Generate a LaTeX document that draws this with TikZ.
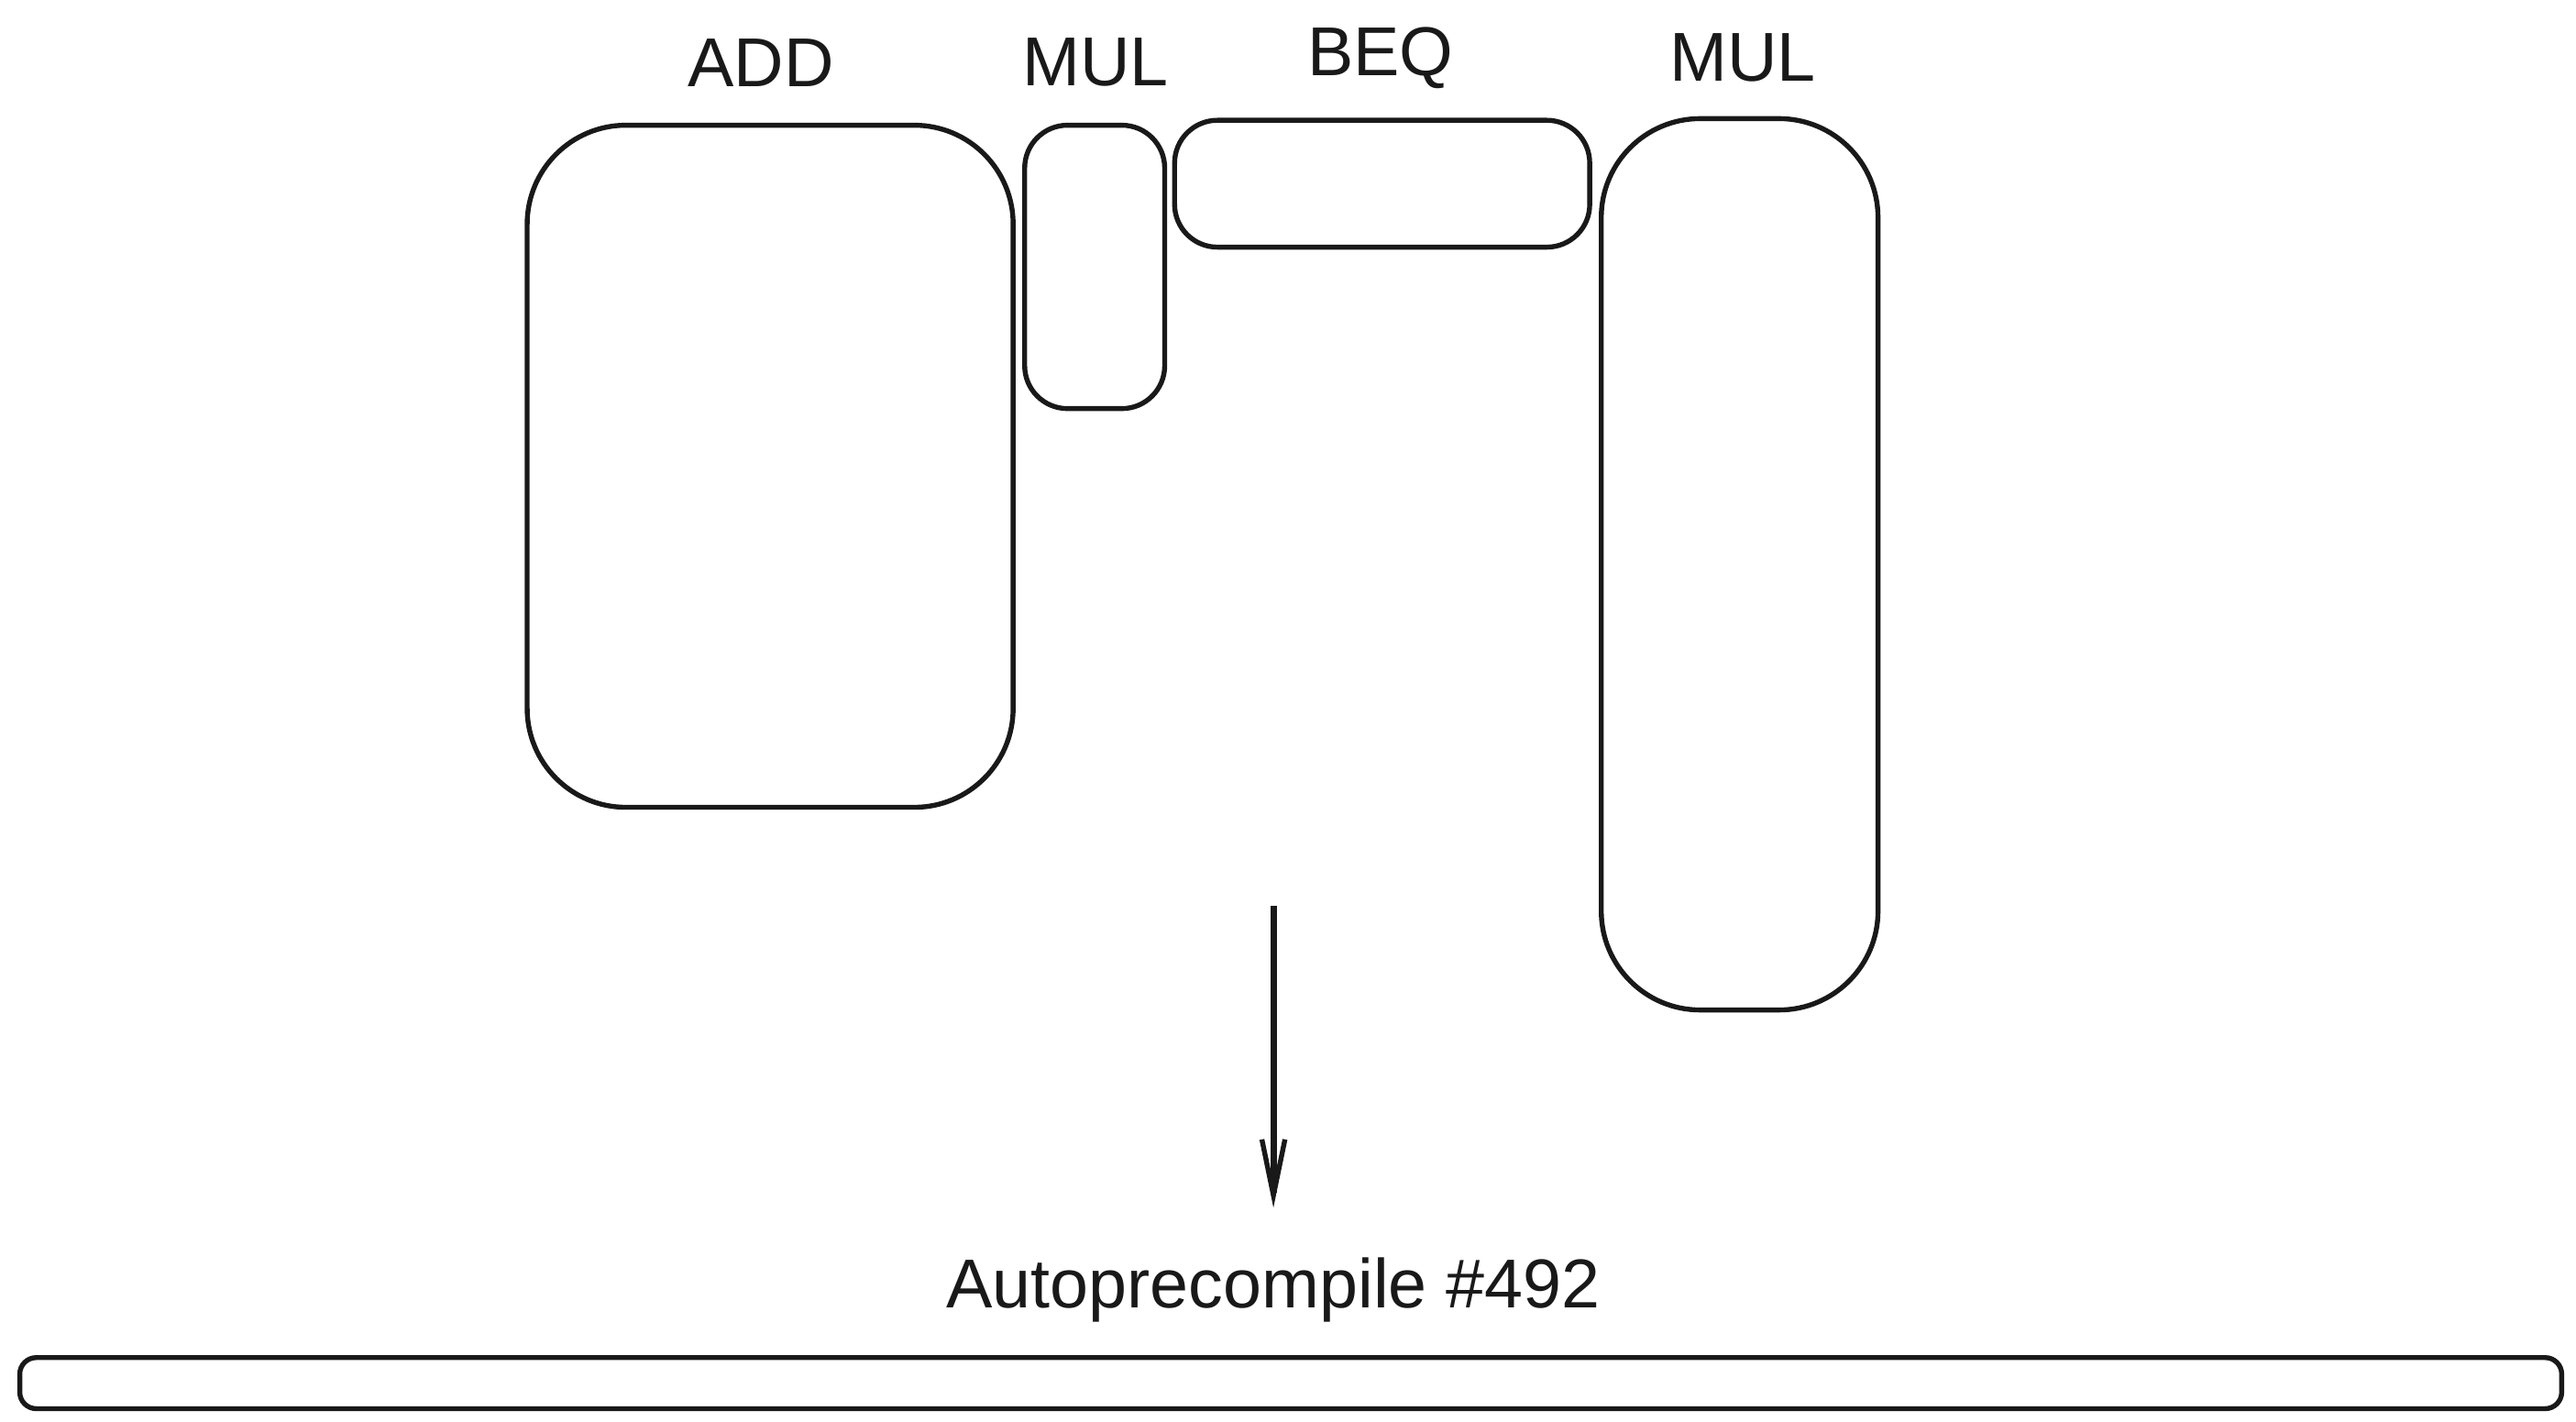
\documentclass[tikz,border=0pt]{standalone}
\usepackage{fontspec}
\setmainfont{Liberation Sans}
\usetikzlibrary{arrows.meta}
\tikzset{
  unitbox/.style={draw=black!90, line width=1.5pt},
  lbl/.style={font=\fontsize{21}{24}\selectfont, text=black!90, inner sep=0pt},
  flowarrow/.style={draw=black!90, line width=2pt, -{Straight Barb[length=17pt,width=7pt,line width=1.5pt]}}
}
\begin{document}
\begin{tikzpicture}[x=0.5pt,y=-0.5pt]
\useasboundingbox (0,0) rectangle (1563.7,862.6);
% boxes
\draw[unitbox, rounded corners=30] (320,76) rectangle (615,490);
\coordinate (add) at (467.5,283);
\draw[unitbox, rounded corners=13] (622,76) rectangle (707,248);
\coordinate (mula) at (664.5,162);
\draw[unitbox, rounded corners=13] (713,73) rectangle (965,150);
\coordinate (beq) at (839,111);
\draw[unitbox, rounded corners=30] (972,72) rectangle (1140,613);
\coordinate (mulb) at (1056,342);
\draw[unitbox, rounded corners=5] (12,824) rectangle (1555,855);
% labels
\node[lbl] (tadd) at (462,38) {ADD};
\node[lbl] (tmula) at (665,38) {MUL};
\node[lbl] (tbeq) at (838,35) {BEQ};
\node[lbl] (tmulb) at (1058,35) {MUL};
\node[lbl] (tauto) at (773,783) {Autoprecompile \#492};
% arrow
\coordinate (arrS) at (773,550);
\coordinate (arrE) at (773,733);
\draw[flowarrow] (arrS) -- (arrE);
\end{tikzpicture}
\end{document}
